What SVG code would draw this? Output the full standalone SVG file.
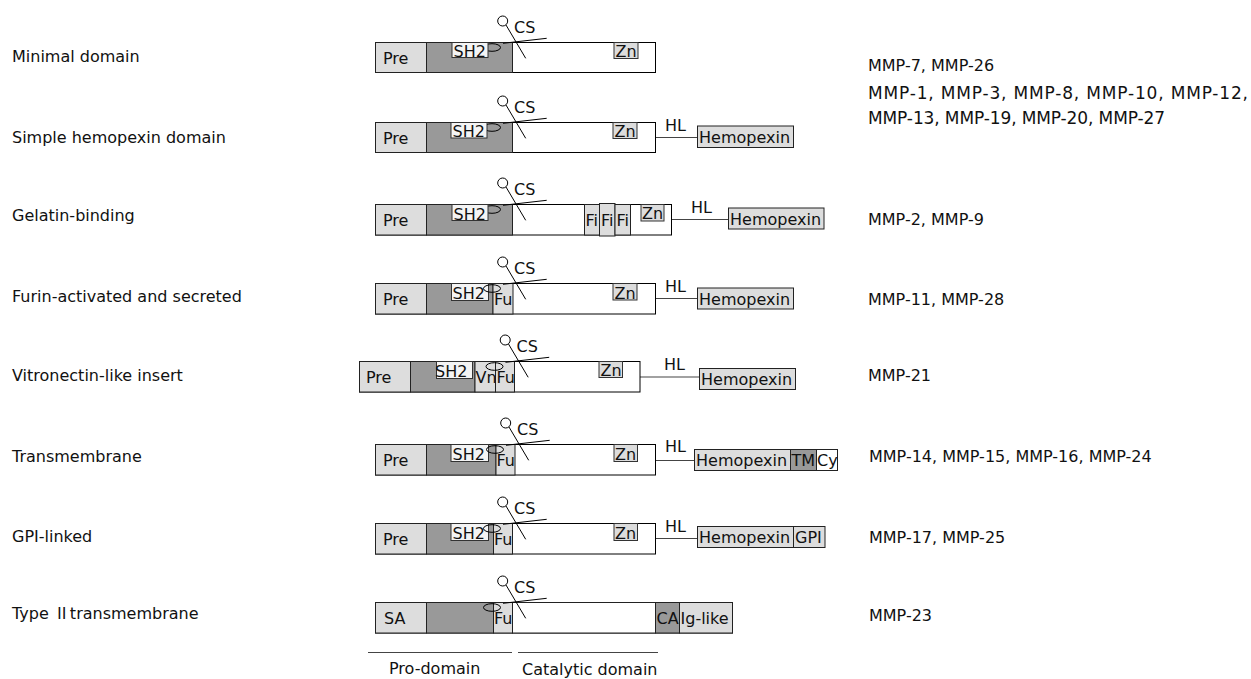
<svg xmlns="http://www.w3.org/2000/svg" xmlns:xlink="http://www.w3.org/1999/xlink" width="1251" height="679" viewBox="0 0 1251 679">
<style>
text{font-family:"DejaVu Sans","Noto Sans CJK SC",sans-serif;font-size:16px;fill:#111}
.cjk{font-family:"Noto Sans CJK SC","DejaVu Sans",sans-serif}
.big{font-size:17px}
.ob{fill:#fff;stroke:#000;stroke-width:1}
.lg{fill:#dddddd;stroke:#222;stroke-width:1}
.dg{fill:#999999;stroke:#222;stroke-width:1}
.wb{fill:#fff;stroke:#222;stroke-width:1}
.sh{fill:#f4f4f4;stroke:#333;stroke-width:1}
.zn{fill:#dcdcdc;stroke:#333;stroke-width:1}
.ln{fill:none;stroke:#000;stroke-width:1}
.cn{fill:none;stroke:#444;stroke-width:1.2}
</style>
<defs>
<g id="sc">
<circle class="ln" cx="-10.3" cy="-21" r="5"/>
<line class="ln" x1="-7" y1="-17" x2="12.7" y2="16.3"/>
<line class="ln" x1="-10" y1="1.3" x2="33.7" y2="-3.7"/>
<text x="1" y="-9">CS</text>
</g>
<ellipse id="hd" class="ln" cx="-21" cy="5.5" rx="8.5" ry="3.8"/>
</defs>

<g id="labels-left">
<text x="12" y="62">Minimal domain</text>
<text x="12" y="143">Simple hemopexin domain</text>
<text x="12" y="221">Gelatin-binding</text>
<text x="12" y="302">Furin-activated and secreted</text>
<text x="12" y="381">Vitronectin-like insert</text>
<text x="12" y="462">Transmembrane</text>
<text x="12" y="542">GPI-linked</text>
<text x="12" y="619">Type <tspan class="cjk">Ⅱ</tspan>transmembrane</text>
</g>

<g id="labels-right">
<text x="868" y="71">MMP-7, MMP-26</text>
<text class="big" x="868" y="99" textLength="380" lengthAdjust="spacing">MMP-1, MMP-3, MMP-8, MMP-10, MMP-12,</text>
<text class="big" x="868" y="124" textLength="297" lengthAdjust="spacing">MMP-13, MMP-19, MMP-20, MMP-27</text>
<text x="868" y="225">MMP-2, MMP-9</text>
<text x="868" y="305">MMP-11, MMP-28</text>
<text x="868" y="381">MMP-21</text>
<text x="869" y="462">MMP-14, MMP-15, MMP-16, MMP-24</text>
<text x="869" y="543">MMP-17, MMP-25</text>
<text x="869" y="621">MMP-23</text>
</g>

<g id="connectors">
<line class="cn" x1="656" y1="137.5" x2="697" y2="137.5"/>
<line class="cn" x1="672" y1="219.5" x2="728" y2="219.5"/>
<line class="cn" x1="656" y1="298.5" x2="697" y2="298.5"/>
<line class="cn" x1="640" y1="377" x2="699" y2="377"/>
<line class="cn" x1="656" y1="460.5" x2="694" y2="460.5"/>
<line class="cn" x1="656" y1="538.5" x2="697" y2="538.5"/>
<line class="cn" x1="368" y1="652.5" x2="512" y2="652.5"/>
<line class="cn" x1="518" y1="652.5" x2="658" y2="652.5"/>
</g>

<g id="row1-minimal">
<rect class="ob" x="375.5" y="42.5" width="280" height="30"/>
<rect class="lg" x="375.5" y="42.5" width="51" height="30"/>
<rect class="dg" x="426.5" y="42.5" width="86" height="30"/>
<use xlink:href="#hd" href="#hd" transform="translate(513,42)"/>
<rect class="sh" x="452" y="42.5" width="36" height="15"/>
<rect class="zn" x="614" y="42.5" width="24" height="16"/>
<text x="383" y="64">Pre</text>
<text x="453.5" y="57">SH2</text>
<text x="615.5" y="57">Zn</text>
<use xlink:href="#sc" href="#sc" transform="translate(513,42)"/>
</g>

<g id="row2-simple-hemopexin">
<rect class="ob" x="375.5" y="122.5" width="280" height="30"/>
<rect class="lg" x="375.5" y="122.5" width="51" height="30"/>
<rect class="dg" x="426.5" y="122.5" width="86" height="30"/>
<use xlink:href="#hd" href="#hd" transform="translate(513,122)"/>
<rect class="sh" x="451" y="122.5" width="36" height="15.5"/>
<rect class="zn" x="613" y="122.5" width="24" height="16"/>
<text x="383" y="144">Pre</text>
<text x="452.5" y="137">SH2</text>
<text x="614.5" y="137">Zn</text>
<use xlink:href="#sc" href="#sc" transform="translate(513,122)"/>
<text x="665" y="130.5">HL</text>
<rect class="lg" x="697.5" y="126" width="96" height="21.5"/>
<text x="699" y="142.5">Hemopexin</text>
</g>

<g id="row3-gelatin-binding">
<rect class="ob" x="375.5" y="204.5" width="296" height="30.5"/>
<rect class="lg" x="375.5" y="204.5" width="51" height="30.5"/>
<rect class="dg" x="426.5" y="204.5" width="86" height="30.5"/>
<use xlink:href="#hd" href="#hd" transform="translate(513,204)"/>
<rect class="sh" x="452" y="204.5" width="36" height="16"/>
<rect class="lg" x="584.5" y="204.5" width="15" height="30.5"/>
<rect class="lg" x="599.5" y="203.5" width="15.5" height="32.5"/>
<rect class="lg" x="615" y="204.5" width="15.5" height="30.5"/>
<rect class="zn" x="641" y="204.5" width="23" height="16.5"/>
<text x="383" y="226">Pre</text>
<text x="453.5" y="219.5">SH2</text>
<text x="585.5" y="226">Fi</text>
<text x="601" y="226">Fi</text>
<text x="616.5" y="226">Fi</text>
<text x="642" y="219">Zn</text>
<use xlink:href="#sc" href="#sc" transform="translate(513,204)"/>
<text x="691" y="213">HL</text>
<rect class="lg" x="728.5" y="208" width="95.5" height="21"/>
<text x="730" y="224.5">Hemopexin</text>
</g>

<g id="row4-furin-activated">
<rect class="ob" x="375.5" y="283.5" width="280" height="30.5"/>
<rect class="lg" x="375.5" y="283.5" width="51" height="30.5"/>
<rect class="dg" x="426.5" y="283.5" width="66.5" height="30.5"/>
<rect class="lg" x="493" y="283.5" width="20" height="30.5"/>
<rect class="sh" x="451.5" y="283.5" width="37" height="17"/>
<rect class="zn" x="613" y="283.5" width="24" height="16.5"/>
<text x="383" y="305">Pre</text>
<text x="452.5" y="299">SH2</text>
<text x="494" y="305">Fu</text>
<text x="614.5" y="298.5">Zn</text>
<use xlink:href="#hd" href="#hd" transform="translate(513,283)"/>
<use xlink:href="#sc" href="#sc" transform="translate(513,283)"/>
<text x="665" y="292">HL</text>
<rect class="lg" x="697.5" y="288" width="96" height="21"/>
<text x="699" y="304.5">Hemopexin</text>
</g>

<g id="row5-vitronectin">
<rect class="ob" x="359.5" y="361.5" width="280.5" height="30.5"/>
<rect class="lg" x="359.5" y="361.5" width="51" height="30.5"/>
<rect class="dg" x="410.5" y="361.5" width="64.5" height="30.5"/>
<rect class="lg" x="475" y="361.5" width="20.5" height="30.5"/>
<rect class="lg" x="495.5" y="361.5" width="19" height="30.5"/>
<rect class="sh" x="436.5" y="361.5" width="36" height="17"/>
<rect class="zn" x="599" y="361.5" width="23.5" height="16"/>
<text x="366" y="383">Pre</text>
<text x="435" y="377">SH2</text>
<text x="475.5" y="383">Vn</text>
<text x="496.5" y="383">Fu</text>
<text x="600.5" y="376">Zn</text>
<use xlink:href="#hd" href="#hd" transform="translate(515.5,361)"/>
<use xlink:href="#sc" href="#sc" transform="translate(515.5,361)"/>
<text x="664" y="370">HL</text>
<rect class="lg" x="699.5" y="368.5" width="96" height="21"/>
<text x="701" y="385">Hemopexin</text>
</g>

<g id="row6-transmembrane">
<rect class="ob" x="375.5" y="444.5" width="280" height="30.5"/>
<rect class="lg" x="375.5" y="444.5" width="51" height="30.5"/>
<rect class="dg" x="426.5" y="444.5" width="69.5" height="30.5"/>
<rect class="lg" x="496" y="444.5" width="19" height="30.5"/>
<rect class="sh" x="451" y="444.5" width="37.5" height="17"/>
<rect class="zn" x="614" y="444.5" width="23.5" height="17"/>
<text x="383" y="466">Pre</text>
<text x="452.5" y="460">SH2</text>
<text x="496.5" y="466">Fu</text>
<text x="615" y="460">Zn</text>
<use xlink:href="#hd" href="#hd" transform="translate(516,444)"/>
<use xlink:href="#sc" href="#sc" transform="translate(516,444)"/>
<text x="665" y="452">HL</text>
<rect class="lg" x="694.5" y="449.5" width="96" height="21"/>
<rect class="dg" x="790.5" y="449.5" width="26" height="21"/>
<rect class="wb" x="816.5" y="449.5" width="21" height="21"/>
<text x="696" y="466">Hemopexin</text>
<text x="791.5" y="466">TM</text>
<text x="817" y="466">Cy</text>
</g>

<g id="row7-gpi-linked">
<rect class="ob" x="375.5" y="523.5" width="280" height="30.5"/>
<rect class="lg" x="375.5" y="523.5" width="51" height="30.5"/>
<rect class="dg" x="426.5" y="523.5" width="67" height="30.5"/>
<rect class="lg" x="493.5" y="523.5" width="19" height="30.5"/>
<rect class="sh" x="451" y="523.5" width="37.5" height="17"/>
<rect class="zn" x="614" y="523.5" width="23.5" height="17"/>
<text x="383" y="545">Pre</text>
<text x="452.5" y="539">SH2</text>
<text x="494" y="545">Fu</text>
<text x="615" y="539">Zn</text>
<use xlink:href="#hd" href="#hd" transform="translate(513,523)"/>
<use xlink:href="#sc" href="#sc" transform="translate(513,523)"/>
<text x="665" y="532">HL</text>
<rect class="lg" x="697.5" y="526.5" width="96" height="21"/>
<rect class="lg" x="793.5" y="526.5" width="31.5" height="21"/>
<text x="699" y="543">Hemopexin</text>
<text x="795" y="543">GPI</text>
</g>

<g id="row8-type2-transmembrane">
<rect class="ob" x="375.5" y="602.5" width="357" height="30.5"/>
<rect class="lg" x="375.5" y="602.5" width="51" height="30.5"/>
<rect class="dg" x="426.5" y="602.5" width="67" height="30.5"/>
<rect class="lg" x="493.5" y="602.5" width="19" height="30.5"/>
<rect class="wb" x="512.5" y="602.5" width="143" height="30.5"/>
<rect class="dg" x="655.5" y="602.5" width="24" height="30.5"/>
<rect class="lg" x="679.5" y="602.5" width="53" height="30.5"/>
<text x="384" y="624">SA</text>
<text x="494" y="624">Fu</text>
<text x="656.5" y="624">CA</text>
<text x="680.5" y="624">Ig-like</text>
<use xlink:href="#hd" href="#hd" transform="translate(513,602)"/>
<use xlink:href="#sc" href="#sc" transform="translate(513,602)"/>
</g>

<g id="domain-labels">
<text x="389" y="674">Pro-domain</text>
<text x="522" y="675">Catalytic domain</text>
</g>
</svg>
